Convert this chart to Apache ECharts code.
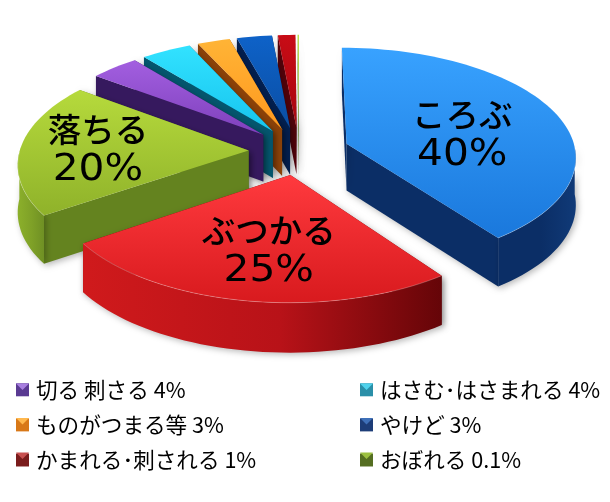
<!DOCTYPE html>
<html><head><meta charset="utf-8">
<style>html,body{margin:0;padding:0;background:#fff}#c{width:610px;height:502px}</style>
<script src="https://cdn.jsdelivr.net/npm/echarts@6/dist/echarts.min.js"></script>
</head><body><div id="c"></div>
<script>
const categories = ["ころぶ","ぶつかる","落ちる","切る 刺さる","はさむ･はさまれる","ものがつまる等","やけど","かまれる･刺される","おぼれる"];
const values = [40,25.5,19.8,3.9,4,2.6,2.8,1.4,0.1];
const valueLabels = ["40%","25%","20%","4%","4%","3%","3%","1%","0.1%"];
const topLight = ["#38a2ff","#ff3a3e","#b6da3c","#a35fe0","#32e2ff","#ffb436","#0e62c8","#c80c16","#b6da3c"];
const topDark = ["#1a78dc","#d81a1e","#8fb22a","#7e40bc","#16c4ee","#ff981e","#0a4ea4","#a8060e","#8fb22a"];
const wallColor = ["#0b2e66","#6a0508","#64831f","#36195e","#04566e","#8c4208","#021f50","#55020a","#64831f"];
const rimA = ["#0b2e66","#d01a1c","#8cb02b","#36195e","#04566e","#8c4208","#021f50","#55020a","#64831f"];
const rimM = ["#0b2e66","#b81218","#7ea027","#36195e","#04566e","#8c4208","#021f50","#55020a","#64831f"];
const rimB = ["#103a78","#650508","#6f9024","#36195e","#04566e","#8c4208","#021f50","#55020a","#64831f"];
const legendLight = ["#a87fe0","#4fd2ec","#ffb84e","#3f70b8","#c85050","#9cc040"];
const legendDark = ["#5a3a92","#2a8fa8","#d87818","#1d3d78","#7a1c1c","#556e22"];
const drawOrder = [8,7,6,5,4,3,2,0,1];
const labelled = {0:[.53,8,4],1:[.59,5,4],2:[.66,0,0]};

const cx=299, cy=151, Rx=229, Ry=108, k=.11, e=.22, D=47;
const total = values.reduce((a,b)=>a+b,0);
const starts=[]; let acc=0;
values.forEach(v=>{starts.push(acc); acc+=v/total*Math.PI*2;});
const rad=d=>d*Math.PI/180;

function pt(i,th,r,down){
  const b=starts[i]+values[i]/total*Math.PI;
  const X=e*Math.sin(b)+r*Math.sin(th), Y=-e*Math.cos(b)-r*Math.cos(th);
  const s=1/(1-k*Y);
  return [cx+Rx*X*s, cy+Ry*Y*s+(down?D*(1+.4*(s-1)):0)];
}
const sh={shadowBlur:6,shadowColor:'rgba(0,0,0,.28)',shadowOffsetY:2,shadowOffsetX:2};
function renderSlice(i){
  const a0=starts[i], a1=a0+values[i]/total*Math.PI*2;
  const rim=[]; const n=Math.max(2,Math.ceil((a1-a0)/rad(2)));
  for(let j=0;j<=n;j++) rim.push(a0+(a1-a0)*j/n);
  const kids=[];
  const wall=(th)=>({type:'polygon',shape:{points:[pt(i,0,0,false),pt(i,th,1,false),pt(i,th,1,true),pt(i,0,0,true)]},style:Object.assign({fill:wallColor[i]},sh)});
  kids.push(wall(a1),wall(a0));
  const front=rim.filter(t=>t>=Math.PI/2&&t<=Math.PI*1.5);
  if(front.length>1){
    const pts=front.map(t=>pt(i,t,1,false)).concat(front.slice().reverse().map(t=>pt(i,t,1,true)));
    kids.push({type:'polygon',shape:{points:pts},style:Object.assign({fill:{type:'linear',x:0,y:0,x2:1,y2:0,colorStops:[
      {offset:0,color:rimA[i]},{offset:.55,color:rimM[i]},{offset:1,color:rimB[i]}]}},sh)});
  }
  const topPts=[pt(i,0,0,false)].concat(rim.map(t=>pt(i,t,1,false)));
  kids.push({type:'polygon',shape:{points:topPts},style:{fill:{type:'linear',x:0,y:0,x2:0,y2:1,colorStops:[{offset:0,color:topLight[i]},{offset:1,color:topDark[i]}]}}});
  if(front.length>1){
    kids.push({type:'polyline',shape:{points:front.map(t=>pt(i,t,1,false))},style:{stroke:'rgba(255,255,255,.25)',lineWidth:1,fill:null}});
  }
  if(labelled[i]){
    const [r,dy,dx]=labelled[i];
    const p=pt(i,a0+(a1-a0)/2,r,false);
    kids.push({type:'text',x:p[0]+dx,y:p[1]+dy-20,style:{text:categories[i],x:0,y:0,align:'center',verticalAlign:'middle',fill:'#000',font:'500 33.5px "Noto Sans CJK JP"'}});
    kids.push({type:'text',x:p[0]+dx,y:p[1]+dy+21,scaleX:1.07,style:{text:valueLabels[i],x:0,y:0,align:'center',verticalAlign:'middle',fill:'#000',font:'38px "DejaVu Sans"'}});
  }
  return {type:'group',children:kids};
}
const legendIdx=[3,4,5,6,7,8];
const nameOf=i=>labelled[i]?categories[i]:categories[i]+' '+valueLabels[i];
const series=drawOrder.map(i=>({
  type:'custom',name:nameOf(i),coordinateSystem:'none',silent:true,animation:false,
  itemStyle:{color:topDark[i]},data:[[values[i]]],renderItem:()=>renderSlice(i)
}));
const legendBase={orient:'vertical',icon:'rect',itemWidth:13,itemHeight:13,itemGap:13.5,selectedMode:false,
  textStyle:{fontFamily:'"Noto Sans CJK JP"',fontSize:21.6,lineHeight:21,color:'#000',padding:[0,0,0,2]}};
const legData=idx=>idx.map(li=>({name:nameOf(legendIdx[li]),itemStyle:{color:legendDark[li]}}));
const swatches=[];
const swX=[16,360], swY=[383.5,418,452.5];
[0,1,2,3,4,5].forEach(li=>{
  const x=swX[li%2], y=swY[Math.floor(li/2)];
  swatches.push({type:'polygon',z:100,silent:true,shape:{points:[[x,y],[x+13,y],[x+6.5,y+6.5]]},style:{fill:legendLight[li]}});
});
const chart=echarts.init(document.getElementById('c'),null,{renderer:'canvas'});
chart.setOption({animation:false,backgroundColor:'#fff',
  legend:[
    Object.assign({},legendBase,{left:11,top:374,data:legData([0,2,4])}),
    Object.assign({},legendBase,{left:355,top:374,data:legData([1,3,5])})
  ],
  graphic:swatches,series});
</script></body></html>
